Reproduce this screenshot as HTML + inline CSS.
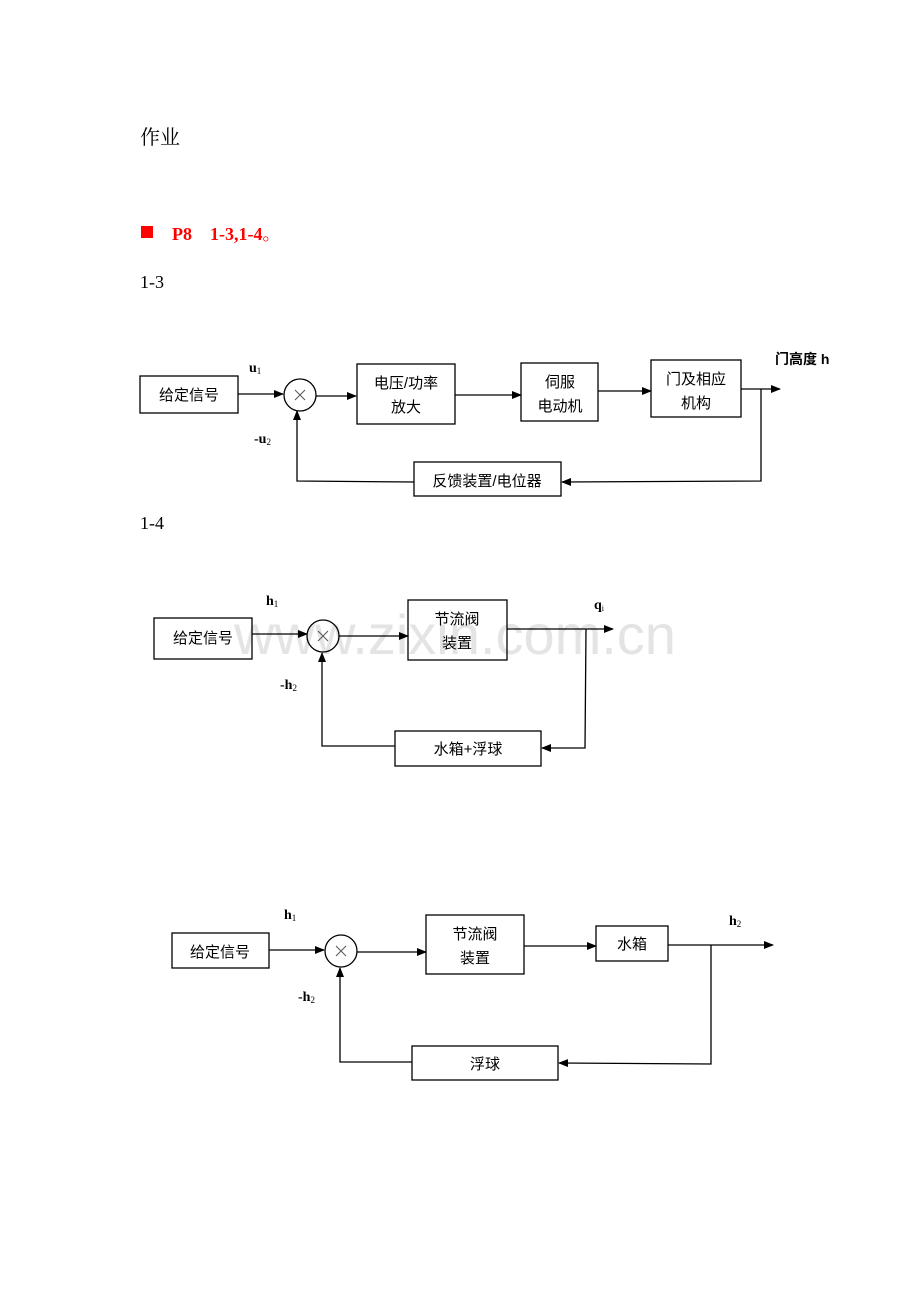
<!DOCTYPE html>
<html><head><meta charset="utf-8"><style>
html,body{margin:0;padding:0;background:#fff;}
svg{display:block;}
text{font-family:"Liberation Sans","Noto Sans CJK SC",sans-serif;}
.s{font-family:"Liberation Serif","Noto Serif CJK SC",serif;}
</style></head><body>
<svg width="920" height="1302" viewBox="0 0 920 1302" xmlns="http://www.w3.org/2000/svg">
<defs><marker id="a" markerWidth="10" markerHeight="8" refX="9" refY="4" orient="auto" markerUnits="userSpaceOnUse"><path d="M0,0 L10,4 L0,8 z" fill="#000"/></marker></defs>
<text x="455" y="654" font-size="56" fill="#e4e4e4" text-anchor="middle" style="font-family:'Liberation Sans',sans-serif">www.zixin.com.cn</text>
<text x="140" y="144" font-size="20" style="font-family:'Liberation Serif','Noto Serif CJK SC',serif">作业</text>
<rect x="141" y="226" width="12" height="12" fill="#f00"/>
<text x="172" y="240" font-size="18" font-weight="bold" fill="#f00" class="s" xml:space="preserve">P8    1-3,1-4。</text>
<text x="140" y="288" font-size="18" class="s">1-3</text>
<text x="140" y="529" font-size="18" class="s">1-4</text>
<g stroke="#000" stroke-width="1.3" fill="none">
<rect x="140" y="376" width="98" height="37"/>
<line x1="238" y1="394" x2="283" y2="394" marker-end="url(#a)"/>
<circle cx="300" cy="395" r="16"/>
<line x1="316" y1="396" x2="356" y2="396" marker-end="url(#a)"/>
<rect x="357" y="364" width="98" height="60"/>
<line x1="455" y1="395" x2="521" y2="395" marker-end="url(#a)"/>
<rect x="521" y="363" width="77" height="58"/>
<line x1="598" y1="391" x2="651" y2="391" marker-end="url(#a)"/>
<rect x="651" y="360" width="90" height="57"/>
<line x1="741" y1="389" x2="780" y2="389" marker-end="url(#a)"/>
<polyline points="761,389 761,481 562,482" marker-end="url(#a)"/>
<rect x="414" y="462" width="147" height="34"/>
<polyline points="414,482 297,481 297,411" marker-end="url(#a)"/>
<rect x="154" y="618" width="98" height="41"/>
<line x1="252" y1="634" x2="307" y2="634" marker-end="url(#a)"/>
<circle cx="323" cy="636" r="16"/>
<line x1="339" y1="636" x2="408" y2="636" marker-end="url(#a)"/>
<rect x="408" y="600" width="99" height="60"/>
<line x1="507" y1="629" x2="613" y2="629" marker-end="url(#a)"/>
<polyline points="586,629 585,748 542,748" marker-end="url(#a)"/>
<rect x="395" y="731" width="146" height="35"/>
<polyline points="395,746 322,746 322,653" marker-end="url(#a)"/>
<rect x="172" y="933" width="97" height="35"/>
<line x1="269" y1="950" x2="324" y2="950" marker-end="url(#a)"/>
<circle cx="341" cy="951" r="16"/>
<line x1="357" y1="952" x2="426" y2="952" marker-end="url(#a)"/>
<rect x="426" y="915" width="98" height="59"/>
<line x1="524" y1="946" x2="596" y2="946" marker-end="url(#a)"/>
<rect x="596" y="926" width="72" height="35"/>
<line x1="668" y1="945" x2="773" y2="945" marker-end="url(#a)"/>
<polyline points="711,945 711,1064 559,1063" marker-end="url(#a)"/>
<rect x="412" y="1046" width="146" height="34"/>
<polyline points="412,1062 340,1062 340,968" marker-end="url(#a)"/>
</g>
<g stroke="#555" stroke-width="1">
<path d="M295,390 l10,10 M305,390 l-10,10"/>
<path d="M318,631 l10,10 M328,631 l-10,10"/>
<path d="M336,946 l10,10 M346,946 l-10,10"/>
</g>
<g font-size="15" text-anchor="middle">
<text x="189" y="400">给定信号</text>
<text x="406" y="388">电压/功率</text>
<text x="406" y="412">放大</text>
<text x="560" y="387">伺服</text>
<text x="560" y="411">电动机</text>
<text x="696" y="384">门及相应</text>
<text x="696" y="408">机构</text>
<text x="487" y="486">反馈装置/电位器</text>
<text x="203" y="643">给定信号</text>
<text x="457" y="624">节流阀</text>
<text x="457" y="648">装置</text>
<text x="468" y="754">水箱+浮球</text>
<text x="220" y="957">给定信号</text>
<text x="475" y="939">节流阀</text>
<text x="475" y="963">装置</text>
<text x="632" y="949">水箱</text>
<text x="485" y="1069">浮球</text>
</g>
<g font-size="14" font-weight="bold" class="s">
<text x="775" y="364" style="font-family:'Liberation Sans','Noto Sans CJK SC',sans-serif">门高度 h</text>
<text x="249" y="372" class="s">u<tspan font-size="9" font-weight="normal" dy="2">1</tspan></text>
<text x="254" y="443" class="s">-u<tspan font-size="9" font-weight="normal" dy="2">2</tspan></text>
<text x="266" y="605" class="s">h<tspan font-size="9" font-weight="normal" dy="2">1</tspan></text>
<text x="594" y="609" class="s">q<tspan font-size="8" font-weight="normal" dy="2">i</tspan></text>
<text x="280" y="689" class="s">-h<tspan font-size="9" font-weight="normal" dy="2">2</tspan></text>
<text x="284" y="919" class="s">h<tspan font-size="9" font-weight="normal" dy="2">1</tspan></text>
<text x="729" y="925" class="s">h<tspan font-size="9" font-weight="normal" dy="2">2</tspan></text>
<text x="298" y="1001" class="s">-h<tspan font-size="9" font-weight="normal" dy="2">2</tspan></text>
</g>
</svg>
</body></html>
